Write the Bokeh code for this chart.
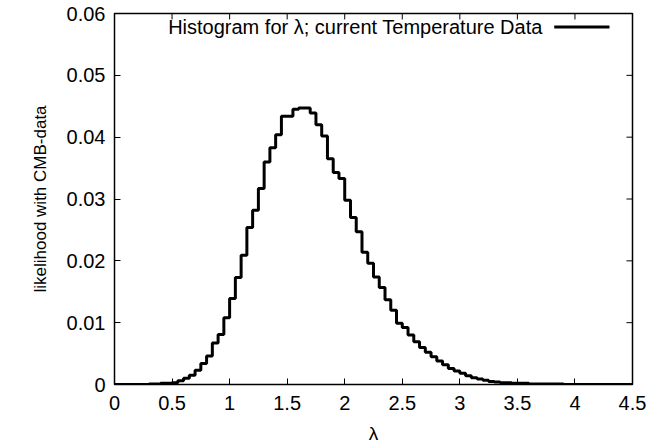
from bokeh.plotting import figure
from bokeh.models import FixedTicker, Label, Range1d
from bokeh.embed import file_html
from bokeh.resources import INLINE

# bin left edges (width 0.05) and histogram heights
bin_width = 0.05
lam_edges = [round(i * bin_width, 2) for i in range(90)]
likelihood = [
    0.0000, 0.0000, 0.0000, 0.0000, 0.0000, 0.0000, 0.0001, 0.0001, 0.0002, 0.0002,  # 0.00-0.45
    0.0003, 0.0006, 0.0010, 0.0015, 0.0023, 0.0034, 0.0046, 0.0067, 0.0081, 0.0108,  # 0.50-0.95
    0.0139, 0.0173, 0.0209, 0.0254, 0.0282, 0.0317, 0.0360, 0.0383, 0.0404, 0.0434,  # 1.00-1.45
    0.0434, 0.0445, 0.0447, 0.0447, 0.0439, 0.0420, 0.0402, 0.0365, 0.0343, 0.0333,  # 1.50-1.95
    0.0298, 0.0270, 0.0247, 0.0214, 0.0196, 0.0174, 0.0157, 0.0137, 0.0120, 0.0099,  # 2.00-2.45
    0.0092, 0.0080, 0.0069, 0.0060, 0.0052, 0.0045, 0.0038, 0.0032, 0.0026, 0.0022,  # 2.50-2.95
    0.0018, 0.0014, 0.0011, 0.0009, 0.0007, 0.0005, 0.0004, 0.0003, 0.0003, 0.0002,  # 3.00-3.45
    0.0002, 0.0002, 0.0001, 0.0001, 0.0001, 0.0001, 0.0001, 0.0001, 0.0000, 0.0000,  # 3.50-3.95
    0.0000, 0.0000, 0.0000, 0.0000, 0.0000, 0.0000, 0.0000, 0.0000, 0.0000, 0.0000,  # 4.00-4.45
]

x_ticks = [0, 0.5, 1, 1.5, 2, 2.5, 3, 3.5, 4, 4.5]
x_tick_labels = ["0", "0.5", "1", "1.5", "2", "2.5", "3", "3.5", "4", "4.5"]
y_ticks = [0, 0.01, 0.02, 0.03, 0.04, 0.05, 0.06]
y_tick_labels = ["0", "0.01", "0.02", "0.03", "0.04", "0.05", "0.06"]

legend_text = "Histogram for \u03bb; current Temperature Data"
x_label = "\u03bb"
y_label = "likelihood with CMB-data"

FONT = "Liberation Sans"
X_MIN, X_MAX = 0, 4.5
Y_MIN, Y_MAX = 0, 0.06

p = figure(width=647, height=446, output_backend="svg", toolbar_location=None,
           x_range=Range1d(X_MIN, X_MAX), y_range=Range1d(Y_MIN, Y_MAX),
           min_border_left=114, min_border_right=15, min_border_top=13, min_border_bottom=59,
           x_axis_label=x_label, y_axis_label=y_label)

p.background_fill_color = "white"
p.border_fill_color = "white"
p.outline_line_color = "black"
p.outline_line_width = 1.5
p.grid.visible = False

# histogram as steps
xs = lam_edges + [lam_edges[-1] + bin_width]
ys = likelihood + [likelihood[-1]]
p.step(xs, ys, mode="after", line_color="black", line_width=3)

def style_axis(ax, ticks, labels, size):
    ax.ticker = FixedTicker(ticks=ticks)
    ax.major_label_overrides = {t: l for t, l in zip(ticks, labels)}
    ax.major_tick_in = 6
    ax.major_tick_out = 0
    ax.minor_tick_line_color = None
    ax.major_tick_line_color = "black"
    ax.major_tick_line_width = 1
    ax.axis_line_color = "black"
    ax.major_label_text_font = FONT
    ax.major_label_text_font_size = size
    ax.major_label_text_color = "black"
    ax.axis_label_text_font = FONT
    ax.axis_label_text_font_style = "normal"
    ax.axis_label_text_color = "black"

xa = p.xaxis[0]
ya = p.yaxis[0]
style_axis(xa, x_ticks, x_tick_labels, "20px")
style_axis(ya, y_ticks, y_tick_labels, "20px")
xa.major_label_standoff = 11
ya.major_label_standoff = 9
xa.axis_label_text_font_size = "19px"
ya.axis_label_text_font_size = "17px"
xa.axis_label_standoff = 10
ya.axis_label_standoff = 14

# mirrored inward ticks on the top and right frame edges
tick_len_x = 6 / 115.0 * (X_MAX - X_MIN) / 4.5     # ~6 px in data units
tick_len_y = 6 / 6233.0 * (Y_MAX - Y_MIN) / 0.06
p.segment(x0=x_ticks, y0=[Y_MAX] * len(x_ticks), x1=x_ticks,
          y1=[Y_MAX - tick_len_y] * len(x_ticks), line_color="black", line_width=1)
p.segment(x0=[X_MAX] * len(y_ticks), y0=y_ticks, x1=[X_MAX - tick_len_x] * len(y_ticks),
          y1=y_ticks, line_color="black", line_width=1)

# legend (gnuplot style: text then sample line)
p.add_layout(Label(x=3.72, y=0.0578, text=legend_text, text_align="right",
                   text_baseline="middle", text_font=FONT, text_font_size="20px",
                   text_color="black"))
p.line([3.82, 4.3], [0.0578, 0.0578], line_color="black", line_width=3)

open("out.html", "w").write(file_html(p, INLINE))
